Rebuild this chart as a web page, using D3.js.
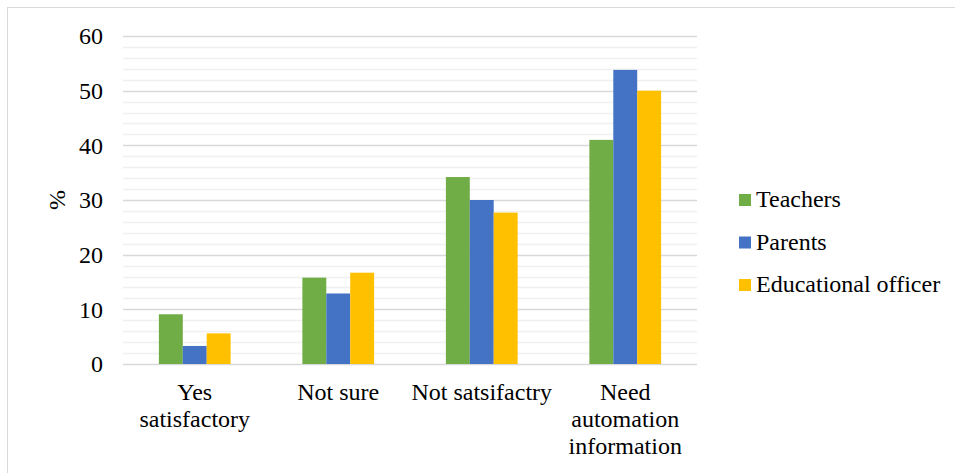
<html>
<head>
<meta charset="utf-8">
<script src="https://cdn.jsdelivr.net/npm/d3@7"></script>
</head>
<body style="margin:0">
<svg id="chart" width="955" height="473" font-family="Liberation Serif"></svg>
<script>
// Survey responses (%) by respondent group
const categories = [["Yes", "satisfactory"], ["Not sure"], ["Not satsifactry"], ["Need", "automation", "information"]];
const seriesNames = ["Teachers", "Parents", "Educational officer"];
const teachers = [9.1, 15.8, 34.2, 41.0];
const parents = [3.3, 12.9, 30.0, 53.8];
const officers = [5.6, 16.7, 27.7, 50.0];
const yTicks = [0, 10, 20, 30, 40, 50, 60];
const colors = ["#70ad47", "#4472c4", "#ffc000"];

const series = [teachers, parents, officers];
const svg = d3.select("#chart");

// outer chart frame
svg.append("rect")
  .attr("x", 7.5).attr("y", 7.5)
  .attr("width", 960).attr("height", 480)
  .attr("fill", "none").attr("stroke", "#d9d9d9").attr("stroke-width", 1);

const plot = { left: 123, right: 697, top: 36, bottom: 364 };

const y = d3.scaleLinear().domain([0, 60]).range([plot.bottom, plot.top]);
const x0 = d3.scaleBand().domain(d3.range(categories.length)).range([plot.left, plot.right]).paddingInner(0.5).paddingOuter(0.25);
const x1 = d3.scaleBand().domain(d3.range(series.length)).range([0, x0.bandwidth()]);

// minor gridlines every 2 units
const minor = d3.range(2, 60, 2).filter(v => v % 10 !== 0);
svg.append("g").selectAll("line").data(minor).join("line")
  .attr("x1", plot.left).attr("x2", plot.right)
  .attr("y1", d => Math.round(y(d)) + 0.5).attr("y2", d => Math.round(y(d)) + 0.5)
  .attr("stroke", "#f0f0f0").attr("stroke-width", 1.5);

// major gridlines
svg.append("g").selectAll("line").data(yTicks).join("line")
  .attr("x1", plot.left).attr("x2", plot.right)
  .attr("y1", d => Math.round(y(d)) + 0.5).attr("y2", d => Math.round(y(d)) + 0.5)
  .attr("stroke", "#d9d9d9").attr("stroke-width", 1.5);

// bars
const groups = svg.append("g").selectAll("g").data(categories).join("g")
  .attr("transform", (d, i) => `translate(${x0(i)},0)`);
groups.selectAll("rect")
  .data((d, i) => series.map((s, k) => ({ k, v: s[i] })))
  .join("rect")
  .attr("x", d => x1(d.k))
  .attr("width", x1.bandwidth())
  .attr("y", d => y(d.v))
  .attr("height", d => y(0) - y(d.v))
  .attr("fill", d => colors[d.k]);

// text layer: everything inherits the serif face from this group
const txt = svg.append("g").attr("font-family", "Liberation Serif").attr("font-size", 24).attr("fill", "#000");

// y-axis tick labels
txt.append("g").selectAll("text").data(yTicks).join("text")
  .attr("x", 103).attr("y", d => y(d)).attr("dy", "0.35em")
  .attr("text-anchor", "end")
  .text(d => d);

// y-axis title
txt.append("text")
  .attr("transform", "translate(65,200) rotate(-90)")
  .attr("text-anchor", "middle")
  .text("%");

// category labels
const cl = txt.append("g").selectAll("text").data(categories).join("text")
  .attr("text-anchor", "middle")
  .attr("x", (d, i) => x0(i) + x0.bandwidth() / 2)
  .attr("y", 400);
cl.selectAll("tspan").data(d => d).join("tspan")
  .attr("x", function () { return d3.select(this.parentNode).attr("x"); })
  .attr("dy", (d, j) => j === 0 ? 0 : 27)
  .text(d => d);

// legend
const lg = txt.append("g").selectAll("g").data(seriesNames).join("g")
  .attr("transform", (d, i) => `translate(739,${200 + i * 42.5})`);
lg.append("rect").attr("x", 0).attr("y", -6).attr("width", 12).attr("height", 12)
  .attr("fill", (d, i) => colors[i]);
lg.append("text").attr("x", 17).attr("y", 7).text(d => d);
</script>
</body>
</html>
